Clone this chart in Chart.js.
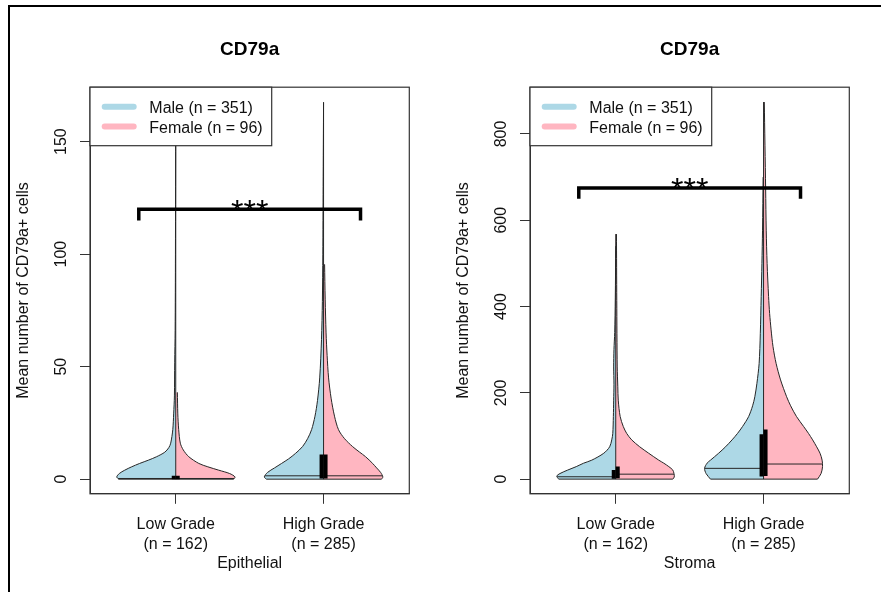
<!DOCTYPE html>
<html>
<head>
<meta charset="utf-8">
<script src="https://cdn.jsdelivr.net/npm/chart.js@4.4.1/dist/chart.umd.min.js"></script>
<style>
  html, body { margin: 0; padding: 0; background: #fff; overflow: hidden; }
  #frame { position: absolute; left: 7.5px; top: 4.5px; width: 900px; height: 700px;
           border-left: 2.5px solid #000; border-top: 2.5px solid #000; }
  canvas { position: absolute; top: 0; }
</style>
</head>
<body>
<div id="frame"></div>
<canvas id="epi" width="440" height="592" style="left:0"></canvas>
<canvas id="stroma" width="440" height="592" style="left:440px"></canvas>
<script>
const titleText = 'CD79a';
const yTitle = 'Mean number of CD79a+ cells';
const groups = ['Low Grade', 'High Grade'];
const groupN = ['(n = 162)', '(n = 285)'];
const sexLabels = ['Male (n = 351)', 'Female (n = 96)'];
const sexColors = ['#ADD8E6', '#FFB6C1'];
const signif = '***';

const epiTicks = [0, 50, 100, 150];
const stromaTicks = [0, 200, 400, 600, 800];

// violin outlines: value (y) and half width (x units)
const epiLowMaleY = [0, 1, 2.5, 4, 5.5, 7, 8.5, 10, 12, 14, 16, 22, 29, 37, 52, 66, 100, 160];
const epiLowMaleW = [0.386, 0.399, 0.382, 0.345, 0.298, 0.244, 0.183, 0.129, 0.074, 0.047, 0.034, 0.020, 0.014, 0.009, 0.007, 0.004, 0.002, 0];
const epiLowFemaleY = [0, 1, 2.5, 4, 5.5, 7, 10, 13, 16, 22, 29, 38.6];
const epiLowFemaleW = [0.392, 0.401, 0.365, 0.291, 0.217, 0.156, 0.088, 0.051, 0.031, 0.020, 0.014, 0.011];
const epiHighMaleY = [0, 1, 3, 5, 7, 9, 11.5, 14.5, 18, 22, 28, 35, 45, 62, 79, 100, 130, 167.5];
const epiHighMaleW = [0.386, 0.401, 0.379, 0.332, 0.284, 0.237, 0.189, 0.142, 0.108, 0.081, 0.058, 0.041, 0.026, 0.014, 0.008, 0.005, 0.003, 0];
const epiHighFemaleY = [0, 1, 3, 5, 7, 10, 12, 14.5, 18, 22, 28, 36, 45, 55, 65, 80, 95.5];
const epiHighFemaleW = [0.392, 0.401, 0.386, 0.359, 0.332, 0.284, 0.244, 0.196, 0.142, 0.101, 0.074, 0.051, 0.034, 0.024, 0.017, 0.011, 0.007];

const stromaLowMaleY = [0, 7, 13, 21, 29, 37, 44, 60, 75, 91, 106, 145, 183, 220, 260, 300, 340, 420, 540];
const stromaLowMaleW = [0.386, 0.399, 0.377, 0.325, 0.267, 0.217, 0.162, 0.081, 0.041, 0.027, 0.020, 0.016, 0.014, 0.012, 0.014, 0.012, 0.007, 0.003, 0];
const stromaLowFemaleY = [0, 5, 13, 21, 29, 37, 44, 60, 75, 91, 106, 122, 145, 183, 214, 260, 414, 568];
const stromaLowFemaleW = [0.386, 0.396, 0.394, 0.386, 0.359, 0.325, 0.291, 0.223, 0.162, 0.108, 0.074, 0.051, 0.030, 0.017, 0.014, 0.010, 0.007, 0.005];
const stromaHighMaleY = [0, 13, 25, 37, 44, 60, 75, 91, 106, 122, 145, 170, 191, 222, 268, 337, 423, 500, 577, 700];
const stromaHighMaleW = [0.359, 0.389, 0.399, 0.382, 0.359, 0.304, 0.257, 0.213, 0.176, 0.142, 0.101, 0.074, 0.059, 0.045, 0.030, 0.022, 0.016, 0.011, 0.007, 0.003];
const stromaHighFemaleY = [0, 13, 29, 44, 60, 75, 91, 106, 122, 145, 170, 191, 230, 268, 307, 346, 384, 423, 500, 577, 674, 874];
const stromaHighFemaleW = [0.365, 0.389, 0.399, 0.396, 0.382, 0.359, 0.332, 0.304, 0.271, 0.223, 0.183, 0.156, 0.115, 0.085, 0.064, 0.051, 0.041, 0.034, 0.024, 0.018, 0.014, 0.005];

// medians and interquartile ranges, [Low Grade, High Grade]
const epiMaleMedian = [0.3, 1.5];
const epiFemaleMedian = [0.3, 1.5];
const epiMaleIqr = [[0, 1.5], [0.3, 11]];
const epiFemaleIqr = [[0, 1.5], [0.3, 11]];
const stromaMaleMedian = [5.5, 25];
const stromaFemaleMedian = [11.5, 35];
const stromaMaleIqr = [[1, 21], [6, 104]];
const stromaFemaleIqr = [[2, 29], [7, 115]];

// significance bracket: [foot, bar]
const epiBracket = [115, 120];
const stromaBracket = [650, 675];

Chart.defaults.font.family = '"Liberation Sans", Arial, Helvetica, sans-serif';
Chart.defaults.font.size = 16;
Chart.defaults.color = '#111';

const OUTLINE = '#262626';
const BOX_HALF = 0.0135;

// linear lookup in a traced outline (for the end of a median line)
const widthAt = (ys, ws, v) => {
  for (let i = 1; i < ys.length; i++) {
    if (v <= ys[i]) {
      const t = (v - ys[i - 1]) / (ys[i] - ys[i - 1]);
      return ws[i - 1] + t * (ws[i] - ws[i - 1]);
    }
  }
  return 0;
};

const seg = (points, width, color) => ({
  data: points, borderColor: color, borderWidth: width, fill: false,
  tension: 0, pointRadius: 0, borderCapStyle: 'butt', borderJoinStyle: 'miter'
});

const half = (pos, ys, ws, sex) => {
  const sign = sex === 0 ? -1 : 1;
  return {
    label: sexLabels[sex],
    data: ys.map((y, k) => ({ x: pos + sign * ws[k], y: y })),
    backgroundColor: sexColors[sex],
    borderColor: OUTLINE,
    borderWidth: 1,
    fill: { value: pos },
    tension: 0.3,
    pointRadius: 0
  };
};

function buildDatasets(p) {
  const b = p.bracket;
  const front = [seg([{ x: 0.75, y: b[0] }, { x: 0.75, y: b[1] }, { x: 2.25, y: b[1] }, { x: 2.25, y: b[0] }], 3.5, '#000')];
  const back = [];
  p.violins.forEach((pair, i) => {
    const pos = i + 1;
    const m = pair[0], f = pair[1];
    front.push(seg([{ x: pos - BOX_HALF, y: p.maleIqr[i][0] }, { x: pos - BOX_HALF, y: p.maleIqr[i][1] }], 4, '#000'));
    front.push(seg([{ x: pos + BOX_HALF, y: p.femaleIqr[i][0] }, { x: pos + BOX_HALF, y: p.femaleIqr[i][1] }], 4, '#000'));
    front.push(seg([{ x: pos - widthAt(m.y, m.w, p.maleMed[i]), y: p.maleMed[i] }, { x: pos, y: p.maleMed[i] }], 1, OUTLINE));
    front.push(seg([{ x: pos, y: p.femaleMed[i] }, { x: pos + widthAt(f.y, f.w, p.femaleMed[i]), y: p.femaleMed[i] }], 1, OUTLINE));
    const peak = Math.max(m.y[m.y.length - 1], f.y[f.y.length - 1]);
    front.push(seg([{ x: pos, y: 0 }, { x: pos, y: peak }], 1, OUTLINE));
    front.push(seg([{ x: pos - m.w[0], y: m.y[0] }, { x: pos + f.w[0], y: f.y[0] }], 1, OUTLINE));
    back.push(half(pos, m.y, m.w, 0), half(pos, f.y, f.w, 1));
  });
  return front.concat(back);
}

const decor = (p) => ({
  id: 'decor',
  afterDatasetsDraw(chart) {
    const { ctx, scales } = chart;
    ctx.save();
    ctx.fillStyle = '#000';
    ctx.font = '32px "Liberation Sans", Arial, sans-serif';
    ctx.textAlign = 'center';
    ctx.textBaseline = 'alphabetic';
    ctx.fillText(signif, scales.x.getPixelForValue(1.5), scales.y.getPixelForValue(p.bracket[1]) + 12.4);
    ctx.restore();
  },
  afterDraw(chart) {
    const { ctx, chartArea: ca } = chart;
    ctx.save();
    // plot box
    ctx.strokeStyle = '#333';
    ctx.lineWidth = 1.2;
    ctx.strokeRect(ca.left, ca.top, ca.right - ca.left, ca.bottom - ca.top);
    // legend
    const lx = ca.left, ly = ca.top;
    ctx.fillStyle = '#fff';
    ctx.fillRect(lx, ly, 181.7, 58.5);
    ctx.strokeRect(lx, ly, 181.7, 58.5);
    ctx.font = '16px "Liberation Sans", Arial, sans-serif';
    ctx.textAlign = 'left';
    ctx.textBaseline = 'alphabetic';
    sexLabels.forEach((lab, s) => {
      const y = ly + 19.6 + s * 19.7;
      ctx.strokeStyle = sexColors[s];
      ctx.lineWidth = 6;
      ctx.lineCap = 'round';
      ctx.beginPath();
      ctx.moveTo(lx + 14.7, y);
      ctx.lineTo(lx + 43.7, y);
      ctx.stroke();
      ctx.fillStyle = '#111';
      ctx.fillText(lab, lx + 59.3, y + 6.4);
    });
    // title
    ctx.font = 'bold 19px "Liberation Sans", Arial, sans-serif';
    ctx.textAlign = 'center';
    ctx.fillStyle = '#000';
    ctx.fillText(titleText, (ca.left + ca.right) / 2, 54.8);
    ctx.restore();
  }
});

function makePanel(id, p) {
  new Chart(document.getElementById(id), {
    type: 'line',
    data: { datasets: buildDatasets(p) },
    plugins: [decor(p)],
    options: {
      indexAxis: 'y',
      responsive: false,
      animation: false,
      events: [],
      layout: { padding: { top: 87.2, right: 30.7, left: 0, bottom: 0 } },
      plugins: { legend: { display: false }, tooltip: { enabled: false } },
      scales: {
        x: {
          type: 'linear', min: 0.42, max: 2.58,
          afterBuildTicks: (s) => { s.ticks = [1, 2].map(v => ({ value: v })); },
          afterFit: (s) => { s.height = 98.2; },
          grid: { drawOnChartArea: false, tickLength: 10, color: '#333' },
          border: { color: '#333' },
          ticks: {
            autoSkip: false, maxRotation: 0, padding: 11, color: '#111',
            font: { size: 16, lineHeight: 1.25 },
            callback: (v) => [groups[Math.round(v) - 1], groupN[Math.round(v) - 1]]
          },
          title: { display: true, text: p.xTitle, color: '#111', font: { size: 16 }, padding: { top: 0, bottom: 18.9 } }
        },
        y: {
          type: 'linear', min: p.yRange[0], max: p.yRange[1],
          afterBuildTicks: (s) => { s.ticks = p.ticks.map(v => ({ value: v })); },
          afterFit: (s) => { s.width = 90; },
          grid: { drawOnChartArea: false, tickLength: 10, color: '#333' },
          border: { color: '#333' },
          ticks: {
            minRotation: 90, maxRotation: 90, crossAlign: 'center', padding: 5.5, color: '#111',
            font: { size: 16 },
            callback: (v) => String(v)
          },
          title: { display: true, text: yTitle, color: '#111', font: { size: 16 }, padding: { top: 14, bottom: 0 } }
        }
      }
    }
  });
}

makePanel('epi', {
  xTitle: 'Epithelial',
  yRange: [-6.5, 174.2],
  ticks: epiTicks,
  bracket: epiBracket,
  violins: [
    [{ y: epiLowMaleY, w: epiLowMaleW }, { y: epiLowFemaleY, w: epiLowFemaleW }],
    [{ y: epiHighMaleY, w: epiHighMaleW }, { y: epiHighFemaleY, w: epiHighFemaleW }]
  ],
  maleMed: epiMaleMedian, femaleMed: epiFemaleMedian,
  maleIqr: epiMaleIqr, femaleIqr: epiFemaleIqr
});

makePanel('stroma', {
  xTitle: 'Stroma',
  yRange: [-34, 908.4],
  ticks: stromaTicks,
  bracket: stromaBracket,
  violins: [
    [{ y: stromaLowMaleY, w: stromaLowMaleW }, { y: stromaLowFemaleY, w: stromaLowFemaleW }],
    [{ y: stromaHighMaleY, w: stromaHighMaleW }, { y: stromaHighFemaleY, w: stromaHighFemaleW }]
  ],
  maleMed: stromaMaleMedian, femaleMed: stromaFemaleMedian,
  maleIqr: stromaMaleIqr, femaleIqr: stromaFemaleIqr
});
</script>
</body>
</html>
